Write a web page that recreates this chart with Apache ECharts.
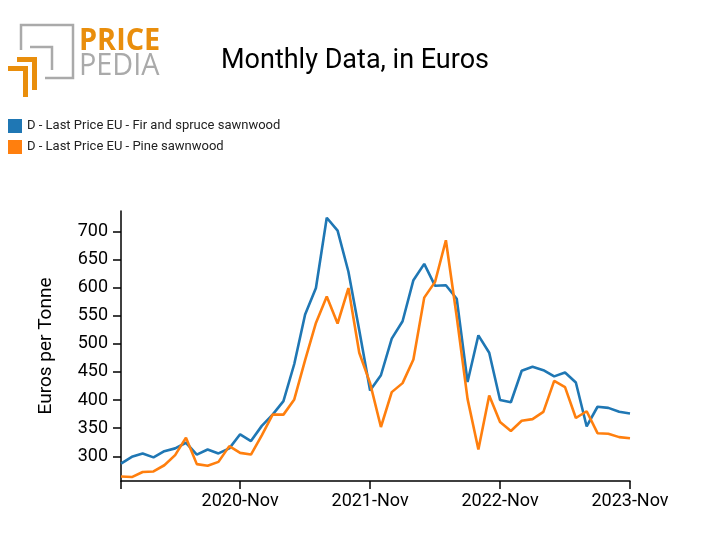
<!DOCTYPE html>
<html>
<head>
<meta charset="utf-8">
<script src="https://cdn.jsdelivr.net/npm/echarts@6/dist/echarts.min.js"></script>
<style>html,body{margin:0;padding:0;background:#fff}#c{width:712px;height:555px}</style>
</head>
<body>
<div id="c"></div>
<script>
const months = ['Jan','Feb','Mar','Apr','May','Jun','Jul','Aug','Sep','Oct','Nov','Dec'];
const categories = [];
for (let y = 2019, m = 11; categories.length < 48; ) {
  categories.push(y + '-' + months[m]);
  m++; if (m === 12) { m = 0; y++; }
}
const firSpruce = [287,299,305,298,309,314,324,303,312,305,314,339,327,354,374,398,464,552,599,724,701,628,524,417,444,509,540,613,642,603,604,580,432,515,484,400,396,452,459,453,442,449,431,353,388,386,379,376];
const pine = [264,263,272,273,284,302,333,286,283,290,318,306,303,337,374,374,401,471,537,584,536,599,484,430,352,414,430,472,582,610,684,548,402,312,408,361,345,363,366,379,434,423,368,380,341,340,334,332];
const yTicks = [300,350,400,450,500,550,600,650,700];
const xLabelIdx = [11,23,35,47];
const xTickIdx = [0,11,23,35,47];

const chart = echarts.init(document.getElementById('c'));
const orange = '#E98E0C', gray = '#AAAAAA';
chart.setOption({
  animation: false,
  textStyle: { fontFamily: 'Roboto' },
  grid: { left: 121, right: 82, top: 211, bottom: 74 },
  legend: {
    orient: 'vertical', left: 8, top: 119, padding: 0, itemWidth: 14, itemHeight: 14, itemGap: 7,
    icon: 'rect', textStyle: { fontSize: 13, color: '#222', fontFamily: 'Roboto' },
    data: ['D - Last Price EU - Fir and spruce sawnwood', 'D - Last Price EU - Pine sawnwood']
  },
  xAxis: {
    type: 'category', data: categories, boundaryGap: false,
    axisLine: { lineStyle: { color: '#000', width: 1.5 } },
    axisTick: { length: 8, lineStyle: { color: '#000', width: 1.5 }, interval: (i) => xTickIdx.includes(i) },
    axisLabel: { interval: (i) => xLabelIdx.includes(i), color: '#000', fontSize: 18, margin: 11, showMaxLabel: true },
    splitLine: { show: false }
  },
  yAxis: {
    type: 'value', min: 256, max: 736,
    name: 'Euros per Tonne', nameLocation: 'middle', nameGap: 65,
    nameTextStyle: { fontSize: 19, color: '#000' },
    axisLine: { show: true, lineStyle: { color: '#000', width: 1.5 } },
    axisTick: { show: true, length: 8, lineStyle: { color: '#000', width: 1.5 }, customValues: yTicks },
    axisLabel: { color: '#000', fontSize: 18, margin: 13, customValues: yTicks },
    splitLine: { show: false }
  },
  series: [
    { name: 'D - Last Price EU - Fir and spruce sawnwood', type: 'line', data: firSpruce, showSymbol: false, symbol: 'none',
      itemStyle: { color: '#1f77b4' }, lineStyle: { color: '#1f77b4', width: 2.6 } },
    { name: 'D - Last Price EU - Pine sawnwood', type: 'line', data: pine, showSymbol: false, symbol: 'none',
      itemStyle: { color: '#ff7f0e' }, lineStyle: { color: '#ff7f0e', width: 2.6 } }
  ],
  graphic: [
    { type: 'text', x: 355, y: 48, style: { text: 'Monthly Data, in Euros', fontSize: 27, fontFamily: 'Roboto', fill: '#000', align: 'center' } },
    // logo gray frame
    { type: 'polyline', shape: { points: [[21,50],[21,25],[73,25],[73,78],[45,78]] }, style: { stroke: gray, lineWidth: 2.5, fill: null } },
    { type: 'polyline', shape: { points: [[30,47],[52,47],[52,70]] }, style: { stroke: gray, lineWidth: 2.5, fill: null } },
    // orange L shapes
    { type: 'polygon', shape: { points: [[17,57],[37,57],[37,90],[32,90],[32,62],[17,62]] }, style: { fill: orange } },
    { type: 'polygon', shape: { points: [[8,66],[28,66],[28,97],[23,97],[23,71],[8,71]] }, style: { fill: orange } },
    { type: 'text', x: 79, y: 26, style: { text: 'PRICE', fontSize: 31, fontWeight: 'bold', fontFamily: 'Open Sans', fill: orange }, scaleX: 0.93 },
    { type: 'text', x: 79, y: 51, style: { text: 'PEDIA', fontSize: 31, fontWeight: 'normal', fontFamily: 'Open Sans', fill: gray }, scaleX: 0.93 }
  ]
});
</script>
</body>
</html>
